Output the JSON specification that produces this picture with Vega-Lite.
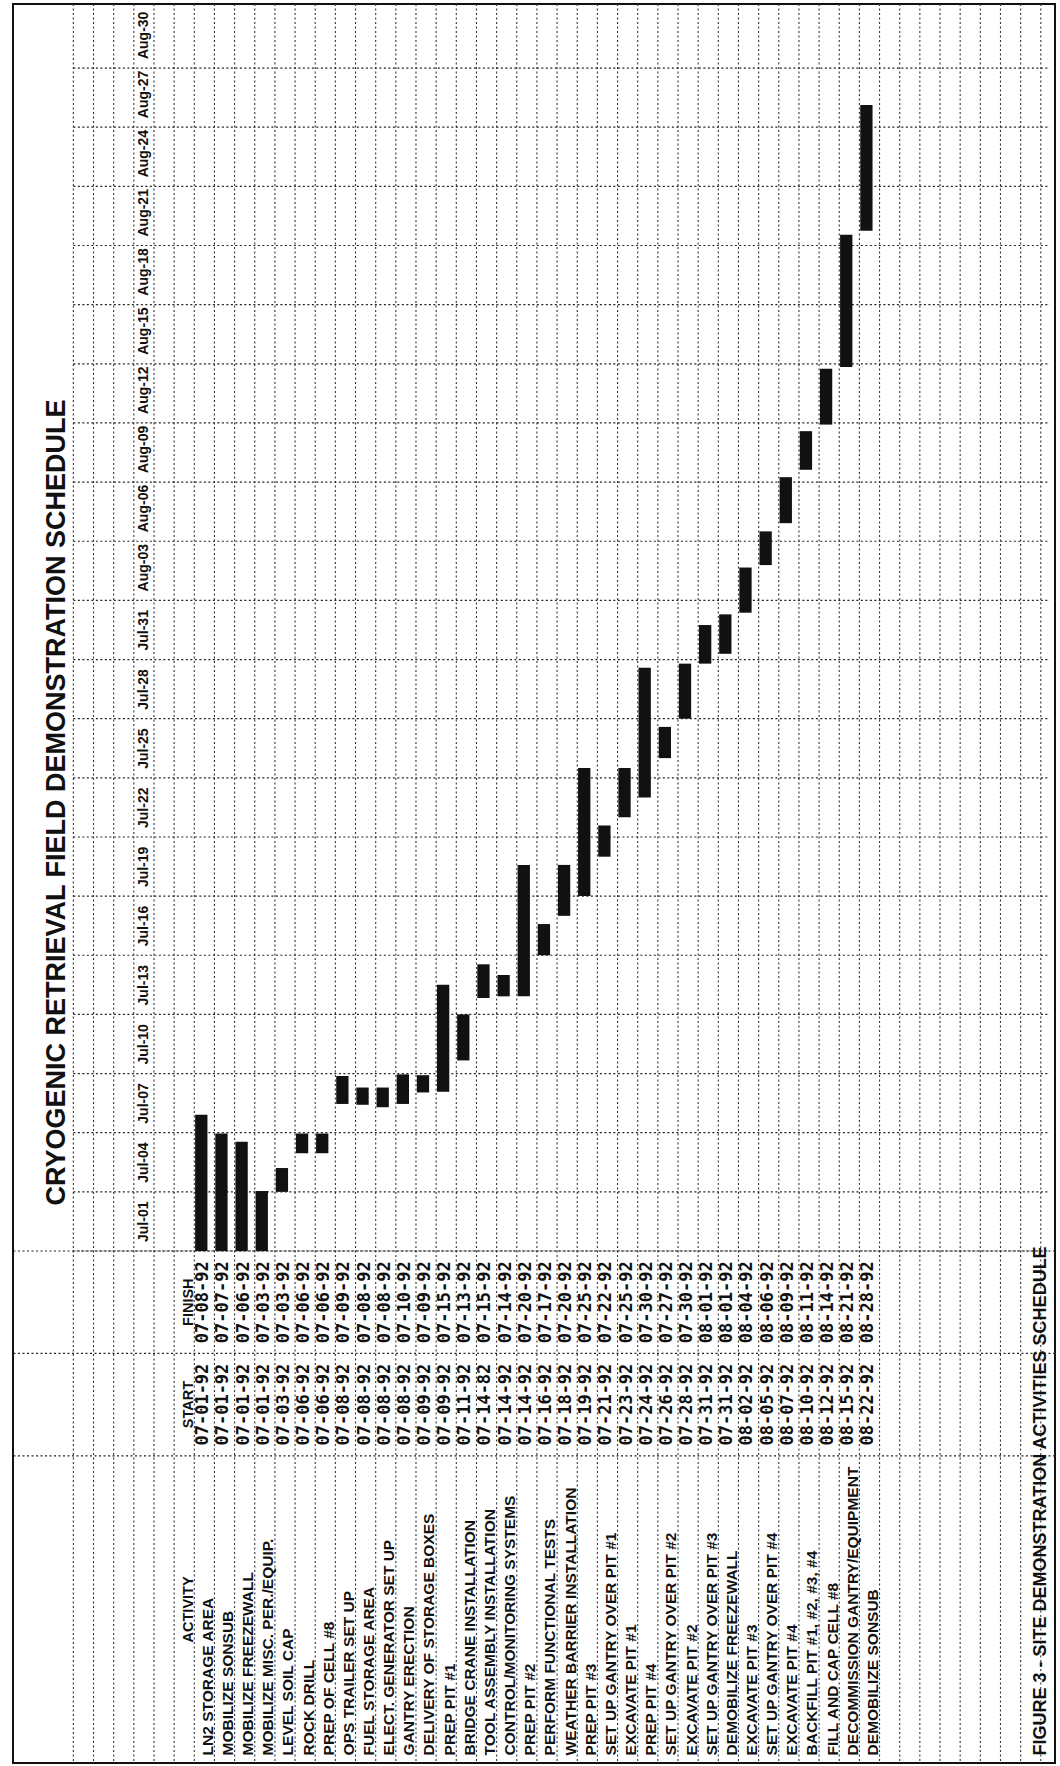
{
  "$schema": "https://vega.github.io/schema/vega-lite/v6.json",
  "width": 1042,
  "height": 1759,
  "autosize": {"type": "none"},
  "padding": {"left": 13, "top": 4, "right": 5, "bottom": 3},
  "background": "#ffffff",
  "config": {"view": {"stroke": "#111111", "strokeWidth": 2}, "font": "Liberation Sans"},
  "datasets": {
    "tasks": [
      {"k": 0, "activity": "LN2 STORAGE AREA", "start": "07-01-92", "finish": "07-08-92", "from": "1992-07-01T00:00:00Z", "to": "1992-07-07T22:00:00Z"},
      {"k": 1, "activity": "MOBILIZE SONSUB", "start": "07-01-92", "finish": "07-07-92", "from": "1992-07-01T00:00:00Z", "to": "1992-07-06T23:00:00Z"},
      {"k": 2, "activity": "MOBILIZE FREEZEWALL", "start": "07-01-92", "finish": "07-06-92", "from": "1992-07-01T00:00:00Z", "to": "1992-07-06T13:00:00Z"},
      {"k": 3, "activity": "MOBILIZE MISC. PER./EQUIP.", "start": "07-01-92", "finish": "07-03-92", "from": "1992-07-01T00:00:00Z", "to": "1992-07-04T01:00:00Z"},
      {"k": 4, "activity": "LEVEL SOIL CAP", "start": "07-03-92", "finish": "07-03-92", "from": "1992-07-04T00:00:00Z", "to": "1992-07-05T05:00:00Z"},
      {"k": 5, "activity": "ROCK DRILL", "start": "07-06-92", "finish": "07-06-92", "from": "1992-07-05T23:00:00Z", "to": "1992-07-06T23:00:00Z"},
      {"k": 6, "activity": "PREP OF CELL #8", "start": "07-06-92", "finish": "07-06-92", "from": "1992-07-05T23:00:00Z", "to": "1992-07-06T23:00:00Z"},
      {"k": 7, "activity": "OPS TRAILER SET UP", "start": "07-08-92", "finish": "07-09-92", "from": "1992-07-08T11:00:00Z", "to": "1992-07-09T21:00:00Z"},
      {"k": 8, "activity": "FUEL STORAGE AREA", "start": "07-08-92", "finish": "07-08-92", "from": "1992-07-08T10:00:00Z", "to": "1992-07-09T07:00:00Z"},
      {"k": 9, "activity": "ELECT. GENERATOR SET UP", "start": "07-08-92", "finish": "07-08-92", "from": "1992-07-08T07:00:00Z", "to": "1992-07-09T07:00:00Z"},
      {"k": 10, "activity": "GANTRY ERECTION", "start": "07-08-92", "finish": "07-10-92", "from": "1992-07-08T11:00:00Z", "to": "1992-07-09T23:00:00Z"},
      {"k": 11, "activity": "DELIVERY OF STORAGE BOXES", "start": "07-09-92", "finish": "07-09-92", "from": "1992-07-09T01:00:00Z", "to": "1992-07-09T22:00:00Z"},
      {"k": 12, "activity": "PREP PIT #1", "start": "07-09-92", "finish": "07-15-92", "from": "1992-07-09T02:00:00Z", "to": "1992-07-14T12:00:00Z"},
      {"k": 13, "activity": "BRIDGE CRANE INSTALLATION", "start": "07-11-92", "finish": "07-13-92", "from": "1992-07-10T16:00:00Z", "to": "1992-07-13T00:00:00Z"},
      {"k": 14, "activity": "TOOL ASSEMBLY INSTALLATION", "start": "07-14-82", "finish": "07-15-92", "from": "1992-07-13T20:00:00Z", "to": "1992-07-15T13:00:00Z"},
      {"k": 15, "activity": "CONTROL/MONITORING SYSTEMS", "start": "07-14-92", "finish": "07-14-92", "from": "1992-07-13T22:00:00Z", "to": "1992-07-15T00:00:00Z"},
      {"k": 16, "activity": "PREP PIT #2", "start": "07-14-92", "finish": "07-20-92", "from": "1992-07-13T22:00:00Z", "to": "1992-07-20T14:00:00Z"},
      {"k": 17, "activity": "PERFORM FUNCTIONAL TESTS", "start": "07-16-92", "finish": "07-17-92", "from": "1992-07-16T00:00:00Z", "to": "1992-07-17T14:00:00Z"},
      {"k": 18, "activity": "WEATHER BARRIER INSTALLATION", "start": "07-18-92", "finish": "07-20-92", "from": "1992-07-18T00:00:00Z", "to": "1992-07-20T14:00:00Z"},
      {"k": 19, "activity": "PREP PIT #3", "start": "07-19-92", "finish": "07-25-92", "from": "1992-07-19T00:00:00Z", "to": "1992-07-25T12:00:00Z"},
      {"k": 20, "activity": "SET UP GANTRY OVER PIT #1", "start": "07-21-92", "finish": "07-22-92", "from": "1992-07-21T00:00:00Z", "to": "1992-07-22T14:00:00Z"},
      {"k": 21, "activity": "EXCAVATE PIT #1", "start": "07-23-92", "finish": "07-25-92", "from": "1992-07-23T00:00:00Z", "to": "1992-07-25T12:00:00Z"},
      {"k": 22, "activity": "PREP PIT #4", "start": "07-24-92", "finish": "07-30-92", "from": "1992-07-24T00:00:00Z", "to": "1992-07-30T14:00:00Z"},
      {"k": 23, "activity": "SET UP GANTRY OVER PIT #2", "start": "07-26-92", "finish": "07-27-92", "from": "1992-07-26T00:00:00Z", "to": "1992-07-27T14:00:00Z"},
      {"k": 24, "activity": "EXCAVATE PIT #2", "start": "07-28-92", "finish": "07-30-92", "from": "1992-07-28T00:00:00Z", "to": "1992-07-30T19:00:00Z"},
      {"k": 25, "activity": "SET UP GANTRY OVER PIT #3", "start": "07-31-92", "finish": "08-01-92", "from": "1992-07-30T19:00:00Z", "to": "1992-08-01T18:00:00Z"},
      {"k": 26, "activity": "DEMOBILIZE FREEZEWALL", "start": "07-31-92", "finish": "08-01-92", "from": "1992-07-31T07:00:00Z", "to": "1992-08-02T07:00:00Z"},
      {"k": 27, "activity": "EXCAVATE PIT #3", "start": "08-02-92", "finish": "08-04-92", "from": "1992-08-02T09:00:00Z", "to": "1992-08-04T16:00:00Z"},
      {"k": 28, "activity": "SET UP GANTRY OVER PIT #4", "start": "08-05-92", "finish": "08-06-92", "from": "1992-08-04T19:00:00Z", "to": "1992-08-06T12:00:00Z"},
      {"k": 29, "activity": "EXCAVATE PIT #4", "start": "08-07-92", "finish": "08-09-92", "from": "1992-08-06T22:00:00Z", "to": "1992-08-09T06:00:00Z"},
      {"k": 30, "activity": "BACKFILL PIT #1, #2, #3, #4", "start": "08-10-92", "finish": "08-11-92", "from": "1992-08-09T15:00:00Z", "to": "1992-08-11T14:00:00Z"},
      {"k": 31, "activity": "FILL AND CAP CELL #8", "start": "08-12-92", "finish": "08-14-92", "from": "1992-08-11T22:00:00Z", "to": "1992-08-14T18:00:00Z"},
      {"k": 32, "activity": "DECOMMISSION GANTRY/EQUIPMENT", "start": "08-15-92", "finish": "08-21-92", "from": "1992-08-14T20:00:00Z", "to": "1992-08-21T13:00:00Z"},
      {"k": 33, "activity": "DEMOBILIZE SONSUB", "start": "08-22-92", "finish": "08-28-92", "from": "1992-08-21T18:00:00Z", "to": "1992-08-28T03:00:00Z"}
    ],
    "ticks": [
      {"date": "1992-07-01T00:00:00Z"}, {"date": "1992-07-04T00:00:00Z"}, {"date": "1992-07-07T00:00:00Z"},
      {"date": "1992-07-10T00:00:00Z"}, {"date": "1992-07-13T00:00:00Z"}, {"date": "1992-07-16T00:00:00Z"},
      {"date": "1992-07-19T00:00:00Z"}, {"date": "1992-07-22T00:00:00Z"}, {"date": "1992-07-25T00:00:00Z"},
      {"date": "1992-07-28T00:00:00Z"}, {"date": "1992-07-31T00:00:00Z"}, {"date": "1992-08-03T00:00:00Z"},
      {"date": "1992-08-06T00:00:00Z"}, {"date": "1992-08-09T00:00:00Z"}, {"date": "1992-08-12T00:00:00Z"},
      {"date": "1992-08-15T00:00:00Z"}, {"date": "1992-08-18T00:00:00Z"}, {"date": "1992-08-21T00:00:00Z"},
      {"date": "1992-08-24T00:00:00Z"}, {"date": "1992-08-27T00:00:00Z"}, {"date": "1992-08-30T00:00:00Z"}
    ],
    "rows": [
      {"k": -6}, {"k": -5}, {"k": -4}, {"k": -3}, {"k": -2}, {"k": -1}, {"k": 0}, {"k": 1}, {"k": 2}, {"k": 3},
      {"k": 4}, {"k": 5}, {"k": 6}, {"k": 7}, {"k": 8}, {"k": 9}, {"k": 10}, {"k": 11}, {"k": 12}, {"k": 13},
      {"k": 14}, {"k": 15}, {"k": 16}, {"k": 17}, {"k": 18}, {"k": 19}, {"k": 20}, {"k": 21}, {"k": 22}, {"k": 23},
      {"k": 24}, {"k": 25}, {"k": 26}, {"k": 27}, {"k": 28}, {"k": 29}, {"k": 30}, {"k": 31}, {"k": 32}, {"k": 33},
      {"k": 34}, {"k": 35}, {"k": 36}, {"k": 37}, {"k": 38}, {"k": 39}, {"k": 40}, {"k": 41}, {"k": 42}
    ],
    "titles": [{"label": "CRYOGENIC RETRIEVAL FIELD DEMONSTRATION SCHEDULE"}],
    "heads": [
      {"k": -1, "col": "ACTIVITY", "label": "ACTIVITY"},
      {"k": -1, "col": "START", "label": "START"},
      {"k": -1, "col": "FINISH", "label": "FINISH"}
    ],
    "notes": [{"k": 42, "label": "FIGURE 3 - SITE DEMONSTRATION ACTIVITIES SCHEDULE"}]
  },
  "layer": [
    {
      "layer": [
        {
          "data": {"name": "rows"},
          "mark": {"type": "rule", "color": "#333333", "strokeWidth": 1.1, "strokeDash": [2, 2.5]},
          "encoding": {
            "x": {"field": "k", "type": "quantitative", "axis": null, "scale": {"domain": [-8.747, 42.457], "nice": false, "zero": false}}
          }
        },
        {
          "data": {"name": "ticks"},
          "transform": [{"filter": "datum.date !== '1992-07-01T00:00:00Z'"}],
          "mark": {"type": "rule", "color": "#222222", "strokeWidth": 1.2, "strokeDash": [2, 2.5]},
          "encoding": {
            "y": {"field": "date", "type": "temporal", "axis": null,
                  "scale": {"type": "utc", "domain": [{"year": 1992, "month": 7, "date": 1, "utc": true}, {"year": 1992, "month": 9, "date": 2, "hours": 6, "utc": true}], "range": [1247, 0]}},
            "x": {"datum": -6, "type": "quantitative", "axis": null, "scale": {"domain": [-8.747, 42.457], "nice": false, "zero": false}},
            "x2": {"datum": 42.457}
          }
        },
        {
          "data": {"name": "tasks"},
          "mark": {"type": "bar", "color": "#111111", "size": 12.3, "xOffset": 7},
          "encoding": {
            "x": {"field": "k", "type": "quantitative", "axis": null, "scale": {"domain": [-8.747, 42.457], "nice": false, "zero": false}},
            "y": {"field": "from", "type": "temporal", "axis": null,
                  "scale": {"type": "utc", "domain": [{"year": 1992, "month": 7, "date": 1, "utc": true}, {"year": 1992, "month": 9, "date": 2, "hours": 6, "utc": true}], "range": [1247, 0]}},
            "y2": {"field": "to"}
          }
        },
        {
          "data": {"name": "ticks"},
          "mark": {"type": "text", "angle": 270, "align": "left", "baseline": "middle", "fontSize": 14, "fontWeight": "bold", "font": "Liberation Sans", "color": "#111111", "xOffset": 10, "yOffset": -9},
          "encoding": {
            "text": {"field": "date", "timeUnit": "utcmonthdate", "type": "temporal", "format": "%b-%d"},
            "x": {"datum": -3, "type": "quantitative", "axis": null, "scale": {"domain": [-8.747, 42.457], "nice": false, "zero": false}},
            "y": {"field": "date", "type": "temporal", "axis": null,
                  "scale": {"type": "utc", "domain": [{"year": 1992, "month": 7, "date": 1, "utc": true}, {"year": 1992, "month": 9, "date": 2, "hours": 6, "utc": true}], "range": [1247, 0]}}
          }
        },
        {
          "data": {"name": "titles"},
          "mark": {"type": "text", "angle": 270, "align": "center", "baseline": "middle", "fontSize": 27, "fontWeight": "bold", "font": "Liberation Sans", "color": "#111111"},
          "encoding": {
            "text": {"field": "label"},
            "x": {"datum": -6.83, "type": "quantitative", "axis": null, "scale": {"domain": [-8.747, 42.457], "nice": false, "zero": false}},
            "y": {"datum": {"year": 1992, "month": 7, "date": 23, "hours": 18, "utc": true}, "type": "temporal", "axis": null,
                  "scale": {"type": "utc", "domain": [{"year": 1992, "month": 7, "date": 1, "utc": true}, {"year": 1992, "month": 9, "date": 2, "hours": 6, "utc": true}], "range": [1247, 0]}}
          }
        }
      ]
    },
    {
      "layer": [
        {
          "data": {"values": [{}]},
          "mark": {"type": "rule", "color": "#222222", "strokeWidth": 1.2, "strokeDash": [2, 2.5]},
          "encoding": {
            "y": {"datum": "FINISH", "type": "nominal", "bandPosition": 0, "axis": null,
                  "scale": {"type": "band", "domain": ["FINISH", "START", "_p1", "ACTIVITY", "_p2"], "range": [1247, 1759], "paddingInner": 0, "paddingOuter": 0}}
          }
        },
        {
          "data": {"values": [{}]},
          "mark": {"type": "rule", "color": "#222222", "strokeWidth": 1.2, "strokeDash": [2, 2.5]},
          "encoding": {
            "y": {"datum": "START", "type": "nominal", "bandPosition": 0, "axis": null,
                  "scale": {"type": "band", "domain": ["FINISH", "START", "_p1", "ACTIVITY", "_p2"], "range": [1247, 1759], "paddingInner": 0, "paddingOuter": 0}}
          }
        },
        {
          "data": {"values": [{}]},
          "mark": {"type": "rule", "color": "#222222", "strokeWidth": 1.2, "strokeDash": [2, 2.5]},
          "encoding": {
            "y": {"datum": "_p1", "type": "nominal", "bandPosition": 0, "axis": null,
                  "scale": {"type": "band", "domain": ["FINISH", "START", "_p1", "ACTIVITY", "_p2"], "range": [1247, 1759], "paddingInner": 0, "paddingOuter": 0}}
          }
        },
        {
          "data": {"name": "heads"},
          "mark": {"type": "text", "angle": 270, "align": "center", "baseline": "middle", "fontSize": 14.5, "fontWeight": "bold", "font": "Liberation Sans", "color": "#111111", "xOffset": 14.5},
          "encoding": {
            "text": {"field": "label"},
            "x": {"field": "k", "type": "quantitative", "axis": null, "scale": {"domain": [-8.747, 42.457], "nice": false, "zero": false}},
            "y": {"field": "col", "type": "nominal", "axis": null,
                  "scale": {"type": "band", "domain": ["FINISH", "START", "_p1", "ACTIVITY", "_p2"], "range": [1247, 1759], "paddingInner": 0, "paddingOuter": 0}}
          }
        },
        {
          "data": {"name": "tasks"},
          "mark": {"type": "text", "angle": 270, "align": "center", "baseline": "middle", "fontSize": 17, "fontWeight": "bold", "font": "DejaVu Sans Mono", "color": "#111111", "xOffset": 9},
          "encoding": {
            "text": {"field": "start"},
            "x": {"field": "k", "type": "quantitative", "axis": null, "scale": {"domain": [-8.747, 42.457], "nice": false, "zero": false}},
            "y": {"datum": "START", "type": "nominal", "axis": null,
                  "scale": {"type": "band", "domain": ["FINISH", "START", "_p1", "ACTIVITY", "_p2"], "range": [1247, 1759], "paddingInner": 0, "paddingOuter": 0}}
          }
        },
        {
          "data": {"name": "tasks"},
          "mark": {"type": "text", "angle": 270, "align": "center", "baseline": "middle", "fontSize": 17, "fontWeight": "bold", "font": "DejaVu Sans Mono", "color": "#111111", "xOffset": 9},
          "encoding": {
            "text": {"field": "finish"},
            "x": {"field": "k", "type": "quantitative", "axis": null, "scale": {"domain": [-8.747, 42.457], "nice": false, "zero": false}},
            "y": {"datum": "FINISH", "type": "nominal", "axis": null,
                  "scale": {"type": "band", "domain": ["FINISH", "START", "_p1", "ACTIVITY", "_p2"], "range": [1247, 1759], "paddingInner": 0, "paddingOuter": 0}}
          }
        },
        {
          "data": {"name": "tasks"},
          "mark": {"type": "text", "angle": 270, "align": "left", "baseline": "middle", "fontSize": 15.5, "fontWeight": "bold", "font": "Liberation Sans", "color": "#111111", "xOffset": 13.5, "yOffset": 146},
          "encoding": {
            "text": {"field": "activity"},
            "x": {"field": "k", "type": "quantitative", "axis": null, "scale": {"domain": [-8.747, 42.457], "nice": false, "zero": false}},
            "y": {"datum": "ACTIVITY", "type": "nominal", "axis": null,
                  "scale": {"type": "band", "domain": ["FINISH", "START", "_p1", "ACTIVITY", "_p2"], "range": [1247, 1759], "paddingInner": 0, "paddingOuter": 0}}
          }
        },
        {
          "data": {"name": "notes"},
          "mark": {"type": "text", "angle": 270, "align": "left", "baseline": "middle", "fontSize": 18, "fontWeight": "bold", "font": "Liberation Sans", "color": "#111111", "xOffset": 0, "yOffset": 146},
          "encoding": {
            "text": {"field": "label"},
            "x": {"field": "k", "type": "quantitative", "axis": null, "scale": {"domain": [-8.747, 42.457], "nice": false, "zero": false}},
            "y": {"datum": "ACTIVITY", "type": "nominal", "axis": null,
                  "scale": {"type": "band", "domain": ["FINISH", "START", "_p1", "ACTIVITY", "_p2"], "range": [1247, 1759], "paddingInner": 0, "paddingOuter": 0}}
          }
        }
      ]
    }
  ],
  "resolve": {"scale": {"y": "independent"}}
}
